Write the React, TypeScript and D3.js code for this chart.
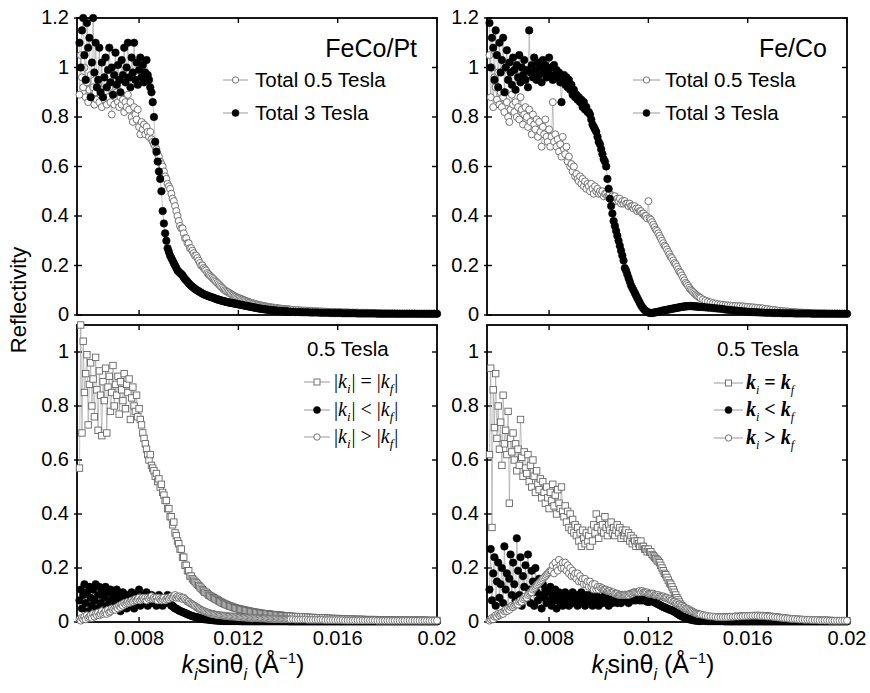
import React from "react";
import * as d3 from "d3";

// x grid in units of 1e-5 Å^-1 (k_i sinθ_i)
const kGrid = [
  560, 565, 570, 575, 580, 585, 590, 595, 600, 605,
  610, 615, 620, 625, 630, 635, 640, 645, 650, 655,
  660, 665, 670, 675, 680, 685, 690, 695, 700, 705,
  710, 715, 720, 725, 730, 735, 740, 745, 750, 755,
  760, 765, 770, 775, 780, 785, 790, 795, 800, 805,
  810, 815, 820, 825, 830, 835, 840, 845, 850, 855,
  860, 865, 870, 875, 880, 885, 890, 895, 900, 905,
  910, 915, 920, 925, 930, 935, 940, 945, 950, 955,
  960, 965, 970, 975, 980, 985, 990, 995, 1000, 1005,
  1010, 1015, 1020, 1025, 1030, 1035, 1040, 1045, 1050, 1055,
  1060, 1065, 1070, 1075, 1080, 1085, 1090, 1095, 1100, 1105,
  1110, 1115, 1120, 1125, 1130, 1135, 1140, 1145, 1150, 1155,
  1160, 1165, 1170, 1175, 1180, 1185, 1190, 1195, 1200, 1205,
  1210, 1215, 1220, 1225, 1230, 1235, 1240, 1245, 1250, 1255,
  1260, 1265, 1270, 1275, 1280, 1285, 1290, 1295, 1300, 1305,
  1310, 1315, 1320, 1325, 1330, 1335, 1340, 1345, 1350, 1355,
  1360, 1365, 1370, 1375, 1380, 1385, 1390, 1395, 1400, 1405,
  1410, 1420, 1430, 1440, 1450, 1460, 1470, 1480, 1490, 1500,
  1510, 1520, 1530, 1540, 1550, 1560, 1570, 1580, 1590, 1600,
  1610, 1620, 1630, 1640, 1650, 1660, 1670, 1680, 1690, 1700,
  1710, 1720, 1730, 1740, 1750, 1760, 1770, 1780, 1790, 1800,
  1810, 1820, 1830, 1840, 1850, 1860, 1870, 1880, 1890, 1900,
  1910, 1920, 1930, 1940, 1950, 1960, 1970, 1980, 1990, 2000,
];

// Reflectivity values in units of 0.01
// FeCo/Pt, Total 0.5 Tesla
const feCoPtTotal05 = [
  89, 105, 96, 92, 100, 88, 94, 86, 91, 97,
  88, 92, 85, 90, 87, 93, 86, 89, 84, 91,
  87, 90, 85, 88, 92, 86, 81, 89, 85, 88,
  90, 86, 84, 88, 85, 87, 82, 86, 84, 89,
  83, 86, 80, 78, 84, 81, 79, 83, 76, 73,
  78, 75, 77, 73, 76, 74, 72, 74, 71, 70,
  69, 68, 67, 65, 64, 62, 61, 60, 58, 56,
  55, 53, 52, 51, 49, 47, 46, 44, 42, 40,
  38, 36, 35, 35, 33, 31, 31, 29, 29, 27,
  27, 26, 25, 24, 24, 23, 22, 21, 20, 20,
  19, 18.5, 18, 17, 16.5, 16, 15.5, 15, 14.5, 14,
  13.5, 13, 12.5, 12, 11.5, 11, 10.5, 10, 9.7, 9.4,
  9.1, 8.8, 8.5, 8.2, 7.9, 7.6, 7.4, 7.1, 6.9, 6.7,
  6.5, 6.3, 6.1, 5.9, 5.7, 5.5, 5.3, 5.1, 5, 4.8,
  4.7, 4.5, 4.4, 4.3, 4.1, 4, 3.9, 3.8, 3.7, 3.6,
  3.5, 3.4, 3.3, 3.2, 3.1, 3, 3, 2.9, 2.8, 2.8,
  2.7, 2.6, 2.6, 2.5, 2.5, 2.4, 2.4, 2.3, 2.3, 2.2,
  2.2, 2.1, 2, 2, 1.9, 1.8, 1.8, 1.7, 1.7, 1.6,
  1.6, 1.5, 1.5, 1.4, 1.4, 1.3, 1.3, 1.3, 1.2, 1.2,
  1.2, 1.1, 1.1, 1.1, 1, 1, 1, 1, 0.9, 0.9,
  0.9, 0.9, 0.8, 0.8, 0.8, 0.8, 0.8, 0.7, 0.7, 0.7,
  0.7, 0.7, 0.7, 0.6, 0.6, 0.6, 0.6, 0.6, 0.6, 0.6,
  0.6, 0.5, 0.5, 0.5, 0.5, 0.5, 0.5, 0.5, 0.5, 0.5,
];

// FeCo/Pt, Total 3 Tesla
const feCoPtTotal3 = [
  110, 100, 115, 120, 105, 95, 118, 108, 112, 88,
  102, 120, 98, 110, 92, 95, 108, 90, 102, 88,
  96, 104, 92, 99, 108, 94, 100, 89, 97, 106,
  93, 101, 95, 90, 103, 97, 108, 94, 100, 110,
  96, 92, 104, 98, 110, 95, 102, 93, 99, 104,
  96, 101, 94, 98, 103, 97, 95, 92, 90, 86,
  80, 70, 66, 62, 58, 55, 50, 42, 37, 33,
  30, 27, 25.5, 24, 23, 22, 21, 20, 19, 18,
  17.5, 17, 16.5, 16, 15.2, 14.5, 14, 13.4, 12.8, 12.3,
  11.8, 11.4, 11, 10.6, 10.2, 9.9, 9.6, 9.3, 9, 8.7,
  8.4, 8.2, 8, 7.8, 7.6, 7.4, 7.3, 7.1, 6.9, 6.7,
  6.5, 6.3, 6.2, 6, 5.9, 5.7, 5.6, 5.5, 5.3, 5.2,
  5.1, 5, 4.9, 4.8, 4.7, 4.6, 4.5, 4.4, 4.3, 4.2,
  4.1, 4, 3.9, 3.8, 3.7, 3.6, 3.5, 3.4, 3.3, 3.2,
  3.1, 3, 2.9, 2.8, 2.7, 2.6, 2.5, 2.5, 2.4, 2.3,
  2.2, 2.2, 2.1, 2, 2, 1.9, 1.9, 1.8, 1.8, 1.7,
  1.7, 1.6, 1.6, 1.5, 1.5, 1.5, 1.4, 1.4, 1.4, 1.3,
  1.3, 1.3, 1.2, 1.2, 1.2, 1.1, 1.1, 1.1, 1, 1,
  1, 1, 0.9, 0.9, 0.9, 0.9, 0.8, 0.8, 0.8, 0.8,
  0.8, 0.7, 0.7, 0.7, 0.7, 0.7, 0.7, 0.6, 0.6, 0.6,
  0.6, 0.6, 0.6, 0.6, 0.6, 0.5, 0.5, 0.5, 0.5, 0.5,
  0.5, 0.5, 0.5, 0.5, 0.5, 0.5, 0.5, 0.5, 0.5, 0.5,
  0.5, 0.5, 0.5, 0.5, 0.5, 0.5, 0.5, 0.5, 0.5, 0.5,
];

// Fe/Co, Total 0.5 Tesla
const feCoTotal05 = [
  105, 88, 100, 84, 96, 92, 87, 98, 85, 90,
  84, 88, 82, 90, 86, 80, 78, 83, 89, 85,
  82, 86, 80, 84, 79, 88, 83, 77, 81, 84,
  80, 76, 83, 78, 73, 81, 77, 75, 79, 72,
  78, 74, 68, 76, 73, 79, 72, 70, 75, 68,
  72, 86, 70, 73, 68, 71, 66, 69, 64, 72,
  67, 65, 68, 62, 64, 60, 61, 58, 60, 56,
  57, 55, 54, 56, 53, 55, 52, 54, 51, 53,
  52, 50, 53, 51, 49, 52, 50, 51, 49, 50,
  49, 50, 48, 49, 49, 48, 48, 49, 47, 48,
  47, 48, 46, 47, 46, 47, 45, 46, 45, 46,
  45, 45, 44, 45, 44, 44, 43, 44, 43, 42,
  43, 42, 42, 41, 41, 40, 40, 39, 46, 39,
  38.5, 37.5, 36.5, 35.5, 34.5, 34, 33, 32, 31, 30,
  29, 28, 27.5, 26.5, 25.5, 24.5, 23.5, 23, 22, 21,
  20.5, 19.5, 18.5, 17.5, 17, 16, 15, 14, 13, 12.5,
  11.8, 11, 10.3, 9.8, 9.3, 8.8, 8.3, 7.9, 7.5, 7.1,
  6.8, 6.3, 5.8, 5.4, 5.1, 4.8, 4.6, 4.4, 4.2, 4.1,
  4, 3.9, 3.8, 3.7, 3.7, 3.6, 3.6, 3.5, 3.4, 3.3,
  3.2, 3.1, 3, 2.9, 2.8, 2.7, 2.5, 2.4, 2.2, 2.1,
  2, 1.8, 1.7, 1.6, 1.5, 1.4, 1.3, 1.2, 1.2, 1.1,
  1, 1, 0.9, 0.9, 0.8, 0.8, 0.8, 0.7, 0.7, 0.7,
  0.7, 0.6, 0.6, 0.6, 0.6, 0.6, 0.5, 0.5, 0.5, 0.5,
];

// Fe/Co, Total 3 Tesla
const feCoTotal3 = [
  118, 100, 112, 108, 95, 115, 105, 92, 110, 98,
  103, 112, 90, 100, 107, 95, 102, 98, 93, 104,
  99, 91, 101, 96, 105, 94, 100, 97, 103, 95,
  99, 92, 115, 98, 101, 96, 104, 99, 95, 102,
  97, 100, 94, 103, 98, 101, 96, 99, 104, 97,
  100, 95, 101, 97, 99, 96, 98, 94, 86, 96,
  97, 93, 96, 92, 95, 91, 93, 89, 91, 88,
  89, 87, 88, 86, 87, 84, 86, 83, 84, 82,
  82, 81, 79, 77, 76, 75, 74, 72, 70, 69,
  67, 65, 63, 62, 60, 55, 51, 47, 44, 41,
  38, 36, 34, 32, 30, 28, 26, 24, 22, 19,
  18, 16.5, 15, 13.5, 12, 11, 10, 9, 8, 7,
  6, 5, 4, 3.2, 2.6, 2, 1.6, 1.2, 1, 0.9,
  0.8, 0.8, 0.9, 1, 1.1, 1.2, 1.3, 1.4, 1.6, 1.7,
  1.8, 1.9, 2, 2.1, 2.2, 2.3, 2.4, 2.5, 2.6, 2.7,
  2.8, 2.9, 3, 3.1, 3.2, 3.3, 3.4, 3.4, 3.5, 3.5,
  3.6, 3.6, 3.6, 3.6, 3.5, 3.5, 3.5, 3.4, 3.4, 3.3,
  3.3, 3.2, 3.1, 3, 2.9, 2.8, 2.7, 2.6, 2.5, 2.4,
  2.2, 2.1, 2, 1.9, 1.8, 1.7, 1.6, 1.5, 1.4, 1.3,
  1.2, 1.2, 1.1, 1.1, 1, 1, 0.9, 0.9, 0.9, 0.8,
  0.8, 0.8, 0.8, 0.7, 0.7, 0.7, 0.7, 0.7, 0.6, 0.6,
  0.6, 0.6, 0.6, 0.6, 0.6, 0.5, 0.5, 0.5, 0.5, 0.5,
  0.5, 0.5, 0.5, 0.5, 0.5, 0.5, 0.5, 0.5, 0.5, 0.5,
];

// FeCo/Pt 0.5 Tesla, |ki| = |kf|
const feCoPtEq = [
  57, 110, 70, 104, 85, 92, 99, 73, 88, 96,
  80, 90, 76, 98, 86, 71, 93, 84, 69, 89,
  82, 94, 70, 87, 91, 78, 85, 95, 80, 88,
  84, 91, 77, 89, 86, 82, 92, 79, 88, 85,
  90, 75, 83, 87, 80, 78, 84, 76, 79, 75,
  73, 70, 68, 66, 64, 62, 60, 62, 58, 57,
  56, 54, 55, 52, 53, 50, 51, 48, 47, 45,
  45, 42, 42, 39, 39, 36, 37, 33, 32, 30,
  29, 27, 27, 24, 24, 21, 21, 19, 19, 17,
  17, 16, 15.5, 15, 14.5, 14, 13.5, 13, 12.5, 12,
  11.5, 11, 11, 10.5, 10, 9.8, 9.5, 9.2, 9, 8.7,
  8.4, 8.2, 7.9, 7.6, 7.4, 7.1, 6.9, 6.7, 6.5, 6.3,
  6.1, 5.9, 5.8, 5.6, 5.4, 5.3, 5.1, 5, 4.9, 4.8,
  4.7, 4.6, 4.5, 4.4, 4.3, 4.2, 4.1, 4, 3.9, 3.8,
  3.7, 3.6, 3.6, 3.5, 3.4, 3.3, 3.3, 3.2, 3.1, 3.1,
  3, 3, 2.9, 2.9, 2.8, 2.8, 2.7, 2.7, 2.6, 2.6,
  2.5, 2.5, 2.5, 2.4, 2.4, 2.3, 2.3, 2.3, 2.2, 2.2,
  2.1, 2.1, 2, 2, 1.9, 1.9, 1.8, 1.8, 1.7, 1.7,
  1.6, 1.6, 1.5, 1.5, 1.5, 1.4, 1.4, 1.3, 1.3, 1.3,
  1.2, 1.2, 1.2, 1.1, 1.1, 1.1, 1, 1, 1, 1,
  0.9, 0.9, 0.9, 0.9, 0.9, 0.8, 0.8, 0.8, 0.8, 0.8,
  0.8, 0.8, 0.7, 0.7, 0.7, 0.7, 0.7, 0.7, 0.7, 0.7,
  0.7, 0.7, 0.7, 0.7, 0.7, 0.6, 0.6, 0.6, 0.6, 0.6,
];

// FeCo/Pt 0.5 Tesla, |ki| < |kf|
const feCoPtLt = [
  8, 12, 5, 10, 14, 7, 11, 4, 13, 9,
  6, 12, 8, 14, 5, 10, 13, 7, 11, 4,
  9, 13, 6, 11, 8, 12, 5, 10, 7, 9,
  12, 6, 10, 4, 8, 11, 7, 9, 5, 10,
  8, 6, 11, 9, 5, 10, 7, 8, 12, 6,
  9, 7, 10, 8, 11, 6, 9, 7, 10, 8,
  7, 9, 6, 8, 10, 7, 9, 6, 8, 7,
  9, 10, 8, 7, 6, 6, 5.5, 5, 5, 4.6,
  4.3, 4.1, 3.9, 3.7, 3.5, 3.3, 3.1, 2.9, 2.7, 2.5,
  2.3, 2.2, 2, 1.9, 1.8, 1.7, 1.5, 1.4, 1.3, 1.2,
  1.1, 1, 1, 0.9, 0.9, 0.8, 0.8, 0.7, 0.7, 0.6,
  0.6, 0.6, 0.5, 0.5, 0.5, 0.5, 0.4, 0.4, 0.4, 0.4,
  0.4, 0.4, 0.4, 0.4, 0.4, 0.4, 0.4, 0.4, 0.4, 0.4,
  0.3, 0.3, 0.3, 0.3, 0.3, 0.3, 0.3, 0.3, 0.3, 0.3,
  0.3, 0.3, 0.3, 0.3, 0.3, 0.3, 0.3, 0.3, 0.3, 0.3,
  0.3, 0.3, 0.3, 0.3, 0.3, 0.3, 0.3, 0.3, 0.3, 0.3,
  0.3, 0.3, 0.3, 0.3, 0.3, 0.3, 0.3, 0.3, 0.3, 0.3,
  0.2, 0.2, 0.2, 0.2, 0.2, 0.2, 0.2, 0.2, 0.2, 0.2,
  0.2, 0.2, 0.2, 0.2, 0.2, 0.2, 0.2, 0.2, 0.2, 0.2,
  0.2, 0.2, 0.2, 0.2, 0.2, 0.2, 0.2, 0.2, 0.2, 0.2,
  0.2, 0.2, 0.2, 0.2, 0.2, 0.2, 0.2, 0.2, 0.2, 0.2,
  0.2, 0.2, 0.2, 0.2, 0.2, 0.2, 0.2, 0.2, 0.2, 0.2,
  0.2, 0.2, 0.2, 0.2, 0.2, 0.2, 0.2, 0.2, 0.2, 0.2,
];

// FeCo/Pt 0.5 Tesla, |ki| > |kf|
const feCoPtGt = [
  1, 0.5, 1.5, 1, 2, 1, 2.5, 1.5, 2, 2.5,
  1.5, 3, 2, 3, 2.5, 3.5, 2.5, 3, 4, 3,
  3.5, 4, 3, 4.5, 3.5, 4, 5, 4.5, 5, 4.5,
  5.5, 5, 6, 5.5, 6.5, 6, 7, 6.5, 7, 7.5,
  7, 7.5, 8, 7.5, 8, 8.5, 8, 8.5, 9, 8,
  8.5, 9, 8.5, 9, 8, 9, 8.5, 9, 9.5, 8.5,
  9, 8.5, 9, 8, 9, 8.5, 8, 8.5, 9, 8,
  8.5, 9, 8.5, 9, 9.5, 9, 9.5, 10, 9, 9.5,
  9, 9.5, 9, 8.5, 9, 8.5, 8, 7.5, 7.5, 7,
  6.8, 6.5, 6.2, 6, 5.6, 5.3, 5, 4.8, 4.5, 4.3,
  4.1, 3.9, 3.7, 3.5, 3.4, 3.2, 3.1, 3, 2.9, 2.8,
  2.7, 2.6, 2.5, 2.5, 2.4, 2.4, 2.3, 2.3, 2.2, 2.2,
  2.1, 2.1, 2, 2, 2, 1.9, 1.9, 1.9, 1.8, 1.8,
  1.8, 1.7, 1.7, 1.7, 1.6, 1.6, 1.6, 1.6, 1.5, 1.5,
  1.5, 1.5, 1.4, 1.4, 1.4, 1.4, 1.3, 1.3, 1.3, 1.3,
  1.3, 1.2, 1.2, 1.2, 1.2, 1.2, 1.1, 1.1, 1.1, 1.1,
  1.1, 1.1, 1, 1, 1, 1, 1, 1, 1, 1,
  1, 1, 0.9, 0.9, 0.9, 0.9, 0.9, 0.8, 0.8, 0.8,
  0.8, 0.8, 0.8, 0.8, 0.7, 0.7, 0.7, 0.7, 0.7, 0.7,
  0.7, 0.7, 0.6, 0.6, 0.6, 0.6, 0.6, 0.6, 0.6, 0.6,
  0.6, 0.6, 0.6, 0.6, 0.6, 0.5, 0.5, 0.5, 0.5, 0.5,
  0.5, 0.5, 0.5, 0.5, 0.5, 0.5, 0.5, 0.5, 0.5, 0.5,
  0.5, 0.5, 0.5, 0.5, 0.5, 0.5, 0.5, 0.5, 0.5, 0.5,
];

// Fe/Co 0.5 Tesla, ki = kf
const feCoEq = [
  62, 94, 35, 86, 72, 92, 68, 80, 64, 74,
  58, 84, 66, 71, 62, 78, 44, 68, 63, 70,
  60, 66, 56, 64, 58, 75, 61, 54, 63, 57,
  55, 62, 52, 58, 50, 60, 54, 48, 56, 51,
  49, 53, 46, 52, 48, 44, 50, 46, 42, 48,
  45, 51, 43, 47, 40, 49, 44, 42, 50, 41,
  39, 43, 37, 41, 35, 40, 34, 38, 33, 36,
  32, 35, 30, 33, 28, 34, 31, 29, 33, 30,
  32, 28, 34, 30, 36, 33, 40, 35, 31, 38,
  34, 36, 33, 39, 35, 32, 36, 34, 37, 33,
  35, 32, 34, 36, 33, 35, 31, 34, 32, 33,
  34, 31, 33, 30, 32, 29, 31, 30, 28, 30,
  29, 28, 30, 28, 28, 27, 27, 26, 27, 26,
  26, 25, 24.5, 24, 23.5, 23, 22.5, 22, 21, 20,
  19, 18, 17.5, 16.5, 15.5, 14.5, 14, 13, 12, 11,
  10, 9, 8.2, 7.4, 6.6, 6, 5.4, 4.8, 4.4, 4,
  3.7, 3.4, 3.1, 2.9, 2.7, 2.5, 2.3, 2.2, 2.1, 2,
  1.9, 1.8, 1.8, 1.7, 1.7, 1.7, 1.7, 1.7, 1.7, 1.8,
  1.8, 1.9, 1.9, 2, 2, 2.1, 2.1, 2.2, 2.2, 2.3,
  2.3, 2.3, 2.4, 2.4, 2.4, 2.3, 2.3, 2.2, 2.1, 2,
  1.9, 1.8, 1.6, 1.5, 1.4, 1.3, 1.2, 1.1, 1, 1,
  0.9, 0.9, 0.8, 0.8, 0.8, 0.7, 0.7, 0.7, 0.6, 0.6,
  0.6, 0.6, 0.6, 0.5, 0.5, 0.5, 0.5, 0.5, 0.5, 0.5,
];

// Fe/Co 0.5 Tesla, ki < kf
const feCoLt = [
  12, 27, 8, 18, 24, 6, 15, 22, 9, 14,
  20, 7, 28, 12, 18, 5, 16, 25, 10, 22,
  14, 8, 31, 19, 10, 24, 6, 17, 13, 21,
  9, 25, 12, 7, 19, 15, 6, 20, 11, 8,
  16, 10, 5, 14, 9, 12, 7, 11, 8, 13,
  6, 10, 8, 12, 5, 9, 11, 7, 10, 6,
  9, 11, 7, 10, 6, 9, 8, 11, 7, 9,
  10, 6, 9, 8, 11, 7, 9, 6, 10, 8,
  7, 10, 8, 6, 9, 7, 10, 8, 6, 9,
  8, 7, 9, 10, 7, 8, 6, 9, 8, 7,
  9, 8, 10, 7, 9, 8, 7, 9, 8, 10,
  8, 9, 7, 9, 8, 10, 8, 9, 8, 9,
  9, 8, 9, 8, 8.5, 8, 8, 7.5, 7.5, 7.5,
  8, 7.8, 7.5, 7.3, 7, 6.8, 6.6, 6.3, 6.1, 5.8,
  5.6, 5.4, 5.2, 5, 4.8, 4.6, 4.4, 4.3, 4.1, 3.8,
  3.5, 3.2, 2.9, 2.6, 2.3, 2.1, 1.9, 1.7, 1.5, 1.3,
  1.1, 1, 0.9, 0.8, 0.7, 0.6, 0.6, 0.5, 0.5, 0.4,
  0.4, 0.4, 0.4, 0.3, 0.3, 0.3, 0.3, 0.3, 0.3, 0.3,
  0.2, 0.2, 0.2, 0.2, 0.2, 0.2, 0.2, 0.2, 0.2, 0.2,
  0.2, 0.2, 0.2, 0.2, 0.2, 0.2, 0.2, 0.2, 0.2, 0.2,
  0.2, 0.2, 0.2, 0.2, 0.2, 0.2, 0.2, 0.2, 0.2, 0.2,
  0.2, 0.2, 0.2, 0.2, 0.2, 0.2, 0.2, 0.2, 0.2, 0.2,
  0.2, 0.2, 0.2, 0.2, 0.2, 0.2, 0.2, 0.2, 0.2, 0.2,
];

// Fe/Co 0.5 Tesla, ki > kf
const feCoGt = [
  0.5, 1, 1.5, 1, 2, 2.5, 2, 3, 2.5, 3,
  3.5, 3, 4, 4.5, 4, 5, 4.5, 5.5, 6, 5.5,
  6, 6.5, 7, 6.5, 7.5, 8, 7.5, 8.5, 9, 9.5,
  9, 10, 10.5, 11, 11, 12, 12.5, 13, 13.5, 14,
  14.5, 15, 15.5, 16, 16.5, 17, 17.5, 18, 18.5, 19,
  19, 21, 18, 22, 20, 19, 23, 21, 20, 22,
  20, 22, 19, 21, 18, 20, 17, 19, 17, 18,
  16, 18, 15, 17, 15, 16, 14, 16, 14, 15,
  13, 15, 13, 14, 12, 14, 12, 13, 12, 13,
  12.5, 12.5, 12, 12, 12, 11.5, 11.5, 11.5, 11, 11,
  11, 10.5, 10.5, 10.5, 10, 10, 10, 10, 10, 10,
  10, 10, 10, 10.5, 10.5, 10.5, 11, 11, 11, 11,
  11, 11.5, 11, 11.5, 11, 11, 11, 11, 10.5, 10.5,
  10.5, 10.5, 10.5, 10, 10, 10, 10, 9.5, 9.5, 9.5,
  9.5, 9, 9, 9, 8.5, 8.5, 8, 8, 7.5, 7.5,
  7, 7, 6.5, 6.5, 6, 6, 5.5, 5.5, 5, 5,
  4.8, 4.5, 4.2, 4, 3.8, 3.5, 3.3, 3.1, 3, 2.9,
  2.8, 2.6, 2.4, 2.2, 2.1, 2, 1.9, 1.8, 1.8, 1.8,
  1.8, 1.8, 1.9, 1.9, 2, 2, 2.1, 2.1, 2.2, 2.2,
  2.3, 2.3, 2.3, 2.3, 2.2, 2.2, 2.1, 2, 2, 1.9,
  1.8, 1.7, 1.6, 1.5, 1.4, 1.3, 1.2, 1.1, 1.1, 1,
  0.9, 0.9, 0.8, 0.8, 0.8, 0.7, 0.7, 0.7, 0.6, 0.6,
  0.6, 0.6, 0.5, 0.5, 0.5, 0.5, 0.5, 0.5, 0.5, 0.5,
];

const yTicksTop = [0, 0.2, 0.4, 0.6, 0.8, 1, 1.2];
const yTicksBottom = [0, 0.2, 0.4, 0.6, 0.8, 1];
const xTicks = [0.008, 0.012, 0.016, 0.02];
const xDomain: [number, number] = [0.0055, 0.02];

const SANS = "'Liberation Sans', Arial, Helvetica, sans-serif";
const SERIF = "'Liberation Serif', 'Times New Roman', serif";
const MARK_GRAY = "#666";
const LINE_GRAY = "#9a9a9a";

type Kind = "open" | "filled" | "square";

function Mark({ kind, cx, cy, r }: { kind: Kind; cx: number; cy: number; r: number }) {
  if (kind === "square") {
    return (
      <rect x={cx - r} y={cy - r} width={2 * r} height={2 * r}
        fill="#fff" stroke={MARK_GRAY} strokeWidth={0.9} />
    );
  }
  if (kind === "filled") {
    return <circle cx={cx} cy={cy} r={r} fill="#000" stroke="#000" strokeWidth={0.5} />;
  }
  return <circle cx={cx} cy={cy} r={r} fill="#fff" stroke={MARK_GRAY} strokeWidth={0.9} />;
}

interface SeriesDef {
  values: number[];
  kind: Kind;
}

function Series({ s, xs, ys }: { s: SeriesDef; xs: any; ys: any }) {
  const pts = s.values.map((v, i) => [kGrid[i] * 1e-5, v / 100] as [number, number]);
  const line = d3.line<[number, number]>().x((d) => xs(d[0])).y((d) => ys(d[1]));
  const r = s.kind === "filled" ? 3.8 : s.kind === "square" ? 3.2 : 3.5;
  return (
    <g>
      <path d={line(pts) || ""} fill="none" stroke={LINE_GRAY} strokeWidth={0.6} />
      {pts.map((p, i) => (
        <Mark key={i} kind={s.kind} cx={xs(p[0])} cy={ys(p[1])} r={r} />
      ))}
    </g>
  );
}

function Panel({ left, top, width, height, yMax, yTicks, showXLabels, series }: {
  left: number; top: number; width: number; height: number; yMax: number;
  yTicks: number[]; showXLabels: boolean; series: SeriesDef[];
}) {
  const xs = d3.scaleLinear().domain(xDomain).range([left, left + width]);
  const ys = d3.scaleLinear().domain([0, yMax]).range([top + height, top]);
  const right = left + width;
  const bottom = top + height;
  return (
    <g>
      {yTicks.map((t) => (
        <g key={"y" + t}>
          <line x1={left - 3} x2={left + 5} y1={ys(t)} y2={ys(t)} stroke="#000" strokeWidth={1.4} />
          <line x1={right - 5} x2={right} y1={ys(t)} y2={ys(t)} stroke="#000" strokeWidth={1.4} />
          <text x={left - 8} y={ys(t) + 6} textAnchor="end" fontFamily={SANS} fontSize={20}>
            {String(t)}
          </text>
        </g>
      ))}
      {xTicks.map((t) => (
        <g key={"x" + t}>
          <line x1={xs(t)} x2={xs(t)} y1={bottom} y2={bottom - 5} stroke="#000" strokeWidth={1.4} />
          <line x1={xs(t)} x2={xs(t)} y1={top} y2={top + 5} stroke="#000" strokeWidth={1.4} />
          {showXLabels && (
            <text x={xs(t)} y={bottom + 23} textAnchor="middle" fontFamily={SANS} fontSize={20}>
              {String(t)}
            </text>
          )}
        </g>
      ))}
      <rect x={left} y={top} width={width} height={height} fill="none" stroke="#000" strokeWidth={1.8} />
      {series.map((s, i) => (
        <Series key={i} s={s} xs={xs} ys={ys} />
      ))}
    </g>
  );
}

function LegendMark({ x1, x2, cy, kind }: { x1: number; x2: number; cy: number; kind: Kind }) {
  const r = kind === "filled" ? 3.5 : kind === "square" ? 3 : 3.2;
  return (
    <g>
      <line x1={x1} x2={x2} y1={cy} y2={cy} stroke={LINE_GRAY} strokeWidth={1} />
      <Mark kind={kind} cx={(x1 + x2) / 2} cy={cy} r={r} />
    </g>
  );
}

function AbsLabel({ x, y, op }: { x: number; y: number; op: string }) {
  return (
    <text x={x} y={y} fontFamily={SERIF} fontSize={20}>
      <tspan>|</tspan>
      <tspan fontStyle="italic">k</tspan>
      <tspan dy={5} fontSize={13} fontStyle="italic">i</tspan>
      <tspan dy={-5} dx={1}>|</tspan>
      <tspan dx={5}>{op}</tspan>
      <tspan dx={5}>|</tspan>
      <tspan fontStyle="italic">k</tspan>
      <tspan dy={5} fontSize={13} fontStyle="italic">f</tspan>
      <tspan dy={-5} dx={1}>|</tspan>
    </text>
  );
}

function PlainLabel({ x, y, op }: { x: number; y: number; op: string }) {
  return (
    <text x={x} y={y} fontFamily={SERIF} fontSize={20}>
      <tspan fontStyle="italic" fontWeight="bold">k</tspan>
      <tspan dy={5} fontSize={12} fontStyle="italic">i</tspan>
      <tspan dy={-5} fontWeight="bold">{" " + op + " "}</tspan>
      <tspan fontStyle="italic" fontWeight="bold">k</tspan>
      <tspan dy={5} fontSize={12} fontStyle="italic">f</tspan>
    </text>
  );
}

function XTitle({ cx, y }: { cx: number; y: number }) {
  return (
    <text x={cx} y={y} textAnchor="middle" fontFamily={SANS} fontSize={25}>
      <tspan fontStyle="italic">k</tspan>
      <tspan dy={7} fontSize={16} fontStyle="italic">i</tspan>
      <tspan dy={-7}>sinθ</tspan>
      <tspan dy={7} fontSize={16} fontStyle="italic">i</tspan>
      <tspan dy={-7}>{" (Å"}</tspan>
      <tspan dy={-10} fontSize={15}>−1</tspan>
      <tspan dy={10}>)</tspan>
    </text>
  );
}

export default function App() {
  const W = 360;
  const H = 297;
  return (
    <svg width={870} height={693} viewBox="0 0 870 693"
      style={{ position: "absolute", left: 0, top: 0, background: "#fff" }}>
      <rect x={0} y={0} width={870} height={693} fill="#fff" />
      <Panel left={77} top={18} width={W} height={H} yMax={1.2} yTicks={yTicksTop} showXLabels={false}
        series={[{ values: feCoPtTotal05, kind: "open" }, { values: feCoPtTotal3, kind: "filled" }]} />
      <Panel left={487} top={18} width={W} height={H} yMax={1.2} yTicks={yTicksTop} showXLabels={false}
        series={[{ values: feCoTotal05, kind: "open" }, { values: feCoTotal3, kind: "filled" }]} />
      <Panel left={77} top={325} width={W} height={H} yMax={1.1} yTicks={yTicksBottom} showXLabels={true}
        series={[
          { values: feCoPtEq, kind: "square" },
          { values: feCoPtLt, kind: "filled" },
          { values: feCoPtGt, kind: "open" },
        ]} />
      <Panel left={487} top={325} width={W} height={H} yMax={1.1} yTicks={yTicksBottom} showXLabels={true}
        series={[
          { values: feCoEq, kind: "square" },
          { values: feCoLt, kind: "filled" },
          { values: feCoGt, kind: "open" },
        ]} />

      {/* Top-left legend */}
      <text x={417} y={57} textAnchor="end" fontFamily={SANS} fontSize={25}>FeCo/Pt</text>
      <LegendMark x1={223} x2={248} cy={80} kind="open" />
      <text x={255} y={87} fontFamily={SANS} fontSize={20.5}>Total 0.5 Tesla</text>
      <LegendMark x1={223} x2={248} cy={113} kind="filled" />
      <text x={255} y={120} fontFamily={SANS} fontSize={20.5}>Total 3 Tesla</text>

      {/* Top-right legend */}
      <text x={827} y={57} textAnchor="end" fontFamily={SANS} fontSize={25}>Fe/Co</text>
      <LegendMark x1={633} x2={660} cy={80} kind="open" />
      <text x={665} y={87} fontFamily={SANS} fontSize={20.5}>Total 0.5 Tesla</text>
      <LegendMark x1={633} x2={660} cy={113} kind="filled" />
      <text x={665} y={120} fontFamily={SANS} fontSize={20.5}>Total 3 Tesla</text>

      {/* Bottom-left legend */}
      <text x={307} y={356} fontFamily={SANS} fontSize={20.5}>0.5 Tesla</text>
      <LegendMark x1={304} x2={330} cy={382} kind="square" />
      <AbsLabel x={334} y={388} op="=" />
      <LegendMark x1={304} x2={330} cy={410} kind="filled" />
      <AbsLabel x={334} y={416} op="<" />
      <LegendMark x1={304} x2={330} cy={437} kind="open" />
      <AbsLabel x={334} y={443} op=">" />

      {/* Bottom-right legend */}
      <text x={717} y={356} fontFamily={SANS} fontSize={20.5}>0.5 Tesla</text>
      <LegendMark x1={714} x2={743} cy={383} kind="square" />
      <PlainLabel x={746} y={389} op="=" />
      <LegendMark x1={714} x2={743} cy={410} kind="filled" />
      <PlainLabel x={746} y={416} op="<" />
      <LegendMark x1={714} x2={743} cy={438} kind="open" />
      <PlainLabel x={746} y={444} op=">" />

      {/* Axis titles */}
      <text transform="translate(26,300) rotate(-90)" textAnchor="middle" fontFamily={SANS} fontSize={22}>
        Reflectivity
      </text>
      <XTitle cx={243} y={673} />
      <XTitle cx={653} y={673} />
    </svg>
  );
}
